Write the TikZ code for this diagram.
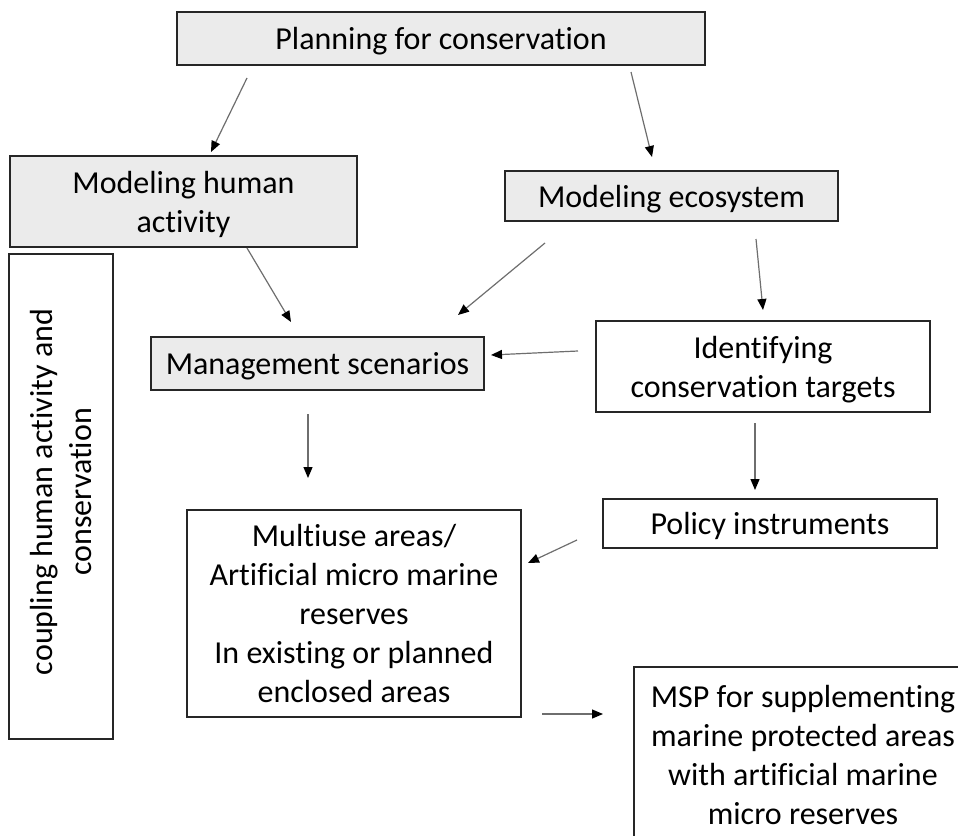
\documentclass[tikz,border=0pt]{standalone}
\usepackage{fontspec}
\setmainfont{Carlito}[RawFeature={-liga,-clig}]
\usetikzlibrary{arrows.meta}
\definecolor{boxgray}{HTML}{EBEBEB}
\definecolor{linegray}{HTML}{6E6E6E}
\tikzset{
  box/.style={draw=black!85, line width=1.3pt, rectangle, inner sep=0pt, align=center,
    font=\fontsize{32}{39}\selectfont, text depth=0pt},
  graybox/.style={box, fill=boxgray},
  whitebox/.style={box, fill=white},
  arr/.style={draw=linegray, line width=1.2pt, -{Triangle[length=11pt,width=9pt,color=black]}}
}
\begin{document}
\begin{tikzpicture}[x=1pt,y=-1pt]
\useasboundingbox (0,0) rectangle (958,835);
\begin{scope}
\clip (0,0) rectangle (958,835);
\node[graybox, minimum width=528pt, minimum height=53pt] (plan) at (441,38.5) {Planning for conservation};
\node[graybox, minimum width=347pt, minimum height=91pt] (human) at (183.5,201.5) {Modeling human\\activity};
\node[graybox, minimum width=333pt, minimum height=50pt] (eco) at (671.5,196) {Modeling ecosystem};
\node[whitebox, minimum width=104pt, minimum height=485pt] (coupling) at (61,496.5) {};
\node[graybox, minimum width=333pt, minimum height=53pt] (mgmt) at (317.5,363.5) {Management scenarios};
\node[whitebox, minimum width=334pt, minimum height=91pt] (ident) at (763,366.5) {Identifying\\conservation targets};
\node[whitebox, minimum width=334pt, minimum height=49pt] (policy) at (770,523.5) {Policy instruments};
\node[whitebox, minimum width=334pt, minimum height=207pt] (multi) at (354,613.5) {Multiuse areas/\\Artificial micro marine\\reserves\\In existing or planned\\enclosed areas};
\node[whitebox, minimum width=338pt, minimum height=175pt] (msp) at (803,754.5) {MSP for supplementing\\marine protected areas\\with artificial marine\\micro reserves};
\end{scope}
\node[rotate=90, align=center, font=\fontsize{32}{39}\selectfont, inner sep=0pt] (couplingtext) at (61,492) {coupling human activity and\\conservation};
\coordinate (a1s) at (247,78);  \coordinate (a1e) at (211,152);
\coordinate (a2s) at (631,72);  \coordinate (a2e) at (652,157);
\coordinate (a3s) at (247,248); \coordinate (a3e) at (291,322);
\coordinate (a4s) at (545,243); \coordinate (a4e) at (458,315);
\coordinate (a5s) at (756,239); \coordinate (a5e) at (763,310);
\coordinate (a6s) at (578,351); \coordinate (a6e) at (491,355);
\coordinate (a7s) at (308,414); \coordinate (a7e) at (308,478);
\coordinate (a8s) at (755,423); \coordinate (a8e) at (755,490);
\coordinate (a9s) at (577,540); \coordinate (a9e) at (528,563);
\coordinate (a10s) at (542,714); \coordinate (a10e) at (603,714);
\foreach \i in {1,...,10} { \draw[arr] (a\i s) -- (a\i e); }
\end{tikzpicture}
\end{document}
